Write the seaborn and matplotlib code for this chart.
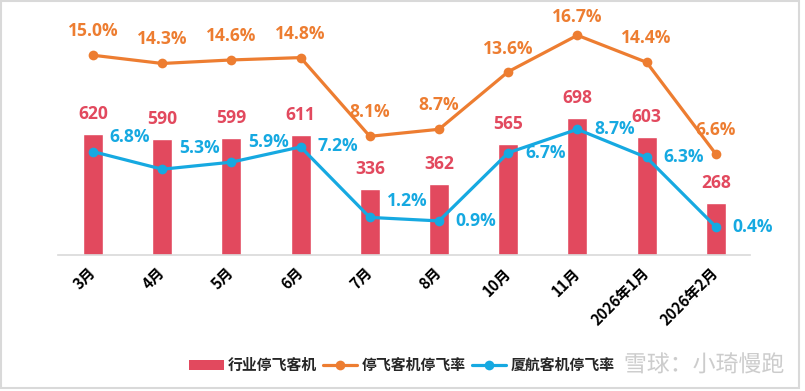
import numpy as np
import pandas as pd
import matplotlib
matplotlib.use("Agg")
import matplotlib.pyplot as plt
import seaborn as sns
from matplotlib.patches import Patch, Rectangle
from matplotlib.lines import Line2D
import matplotlib.patheffects as pe

# ---- data ----
categories = ["3月", "4月", "5月", "6月", "7月", "8月", "10月", "11月", "2026年1月", "2026年2月"]
grounded_planes = [620, 590, 599, 611, 336, 362, 565, 698, 603, 268]
grounded_rate = [15.0, 14.3, 14.6, 14.8, 8.1, 8.7, 13.6, 16.7, 14.4, 6.6]
xiamen_rate = [6.8, 5.3, 5.9, 7.2, 1.2, 0.9, 6.7, 8.7, 6.3, 0.4]
legend_labels = ["行业停飞客机", "停飞客机停飞率", "厦航客机停飞率"]
watermark = "雪球：小琦慢跑"

# ---- styles / layout ----
RED = "#E2495E"
ORANGE = "#ED7D31"
BLUE = "#16A9E1"
PX = 0.72  # points per pixel at dpi 100

# label offsets (pixels) for readability, as in the reference
orange_dy = [24, 24, 24, 24, 24, 24, 23, 18, 24, 24]
blue_dy = [15, 21, 20, 1, 16, 0, 0, 0, 0, 0]

sns.set_theme(style="white")
plt.rcParams["font.family"] = ["Open Sans", "Noto Sans CJK SC", "DejaVu Sans"]

fig = plt.figure(figsize=(8.05, 3.91), dpi=100)
ax = fig.add_axes([58.4 / 805, 136 / 391, 692 / 805, 235 / 391])

df = pd.DataFrame({"cat": categories, "planes": grounded_planes,
                   "rate": grounded_rate, "xm": xiamen_rate})
df["pos"] = np.arange(len(df))

sns.barplot(data=df, x="cat", y="planes", ax=ax, color=RED, saturation=1,
            width=0.29, order=categories)
ax.set_ylim(0, 1200)
ax.set_xlim(-0.5, len(categories) - 0.5)
ax.set_xlabel("")
ax.set_ylabel("")
ax.set_yticks([])
for s in ["top", "right", "left"]:
    ax.spines[s].set_visible(False)
ax.spines["bottom"].set_color("#D9D9D9")
ax.spines["bottom"].set_linewidth(1.2)
ax.tick_params(axis="x", length=0, pad=11)
for lab in ax.get_xticklabels():
    lab.set_rotation(45)
    lab.set_ha("right")
    lab.set_va("center")
    lab.set_rotation_mode("anchor")
    lab.set_fontsize(10.8)
    lab.set_fontweight("bold")
    lab.set_fontfamily(["Noto Sans CJK SC", "DejaVu Sans"])
    lab.set_color("black")

ax2 = ax.twinx()
ax2.set_position(ax.get_position())
sns.lineplot(data=df, x="pos", y="rate", ax=ax2, color=ORANGE, lw=2.3,
             marker="o", markersize=7, markeredgewidth=0)
sns.lineplot(data=df, x="pos", y="xm", ax=ax2, color=BLUE, lw=2.3,
             marker="o", markersize=7, markeredgewidth=0)
ax2.set_ylim(-2, 18)
ax2.set_xlim(-0.5, len(categories) - 0.5)
ax2.set_yticks([])
ax2.set_xlabel("")
ax2.set_ylabel("")
for s in ax2.spines.values():
    s.set_visible(False)

lab_font = dict(fontsize=12.6, fontweight="bold", family=["Open Sans", "DejaVu Sans"])
for i, v in enumerate(grounded_planes):
    ax.annotate(f"{v}", (i, v), xytext=(0, 20 * PX), textcoords="offset points",
                ha="center", va="center", color=RED, **lab_font)
for i, v in enumerate(grounded_rate):
    ax2.annotate(f"{v:.1f}%", (i, v), xytext=(0, orange_dy[i] * PX),
                 textcoords="offset points", ha="center", va="center",
                 color=ORANGE, **lab_font)
for i, v in enumerate(xiamen_rate):
    ax2.annotate(f"{v:.1f}%", (i, v), xytext=(37 * PX, blue_dy[i] * PX),
                 textcoords="offset points", ha="center", va="center",
                 color=BLUE, **lab_font)

handles = [Patch(facecolor=RED, edgecolor="none"),
           Line2D([0], [0], color=ORANGE, lw=2.3, marker="o", markersize=7, markeredgewidth=0),
           Line2D([0], [0], color=BLUE, lw=2.3, marker="o", markersize=7, markeredgewidth=0)]
fig.legend(handles, legend_labels, loc="center", bbox_to_anchor=(402 / 805, 1 - 365 / 391),
           ncol=3, frameon=False, handlelength=2.3, handleheight=0.7,
           handletextpad=0.3, columnspacing=0.4,
           prop={"family": ["Noto Sans CJK SC", "DejaVu Sans"], "size": 10.7, "weight": "bold"})

fig.text(784 / 805, 1 - 365 / 391, watermark, ha="right", va="center", fontsize=16.5,
         color="#C8C8C8", family=["Noto Sans CJK SC", "DejaVu Sans"], alpha=0.9,
         path_effects=[pe.withStroke(linewidth=3, foreground="white")])

fig.patches.append(Rectangle((1 / 805, 3 / 391), 798 / 805, 387 / 391,
                             transform=fig.transFigure, fill=False,
                             edgecolor="#D9D9D9", lw=1.5))

fig.savefig("out.png", dpi=100)
